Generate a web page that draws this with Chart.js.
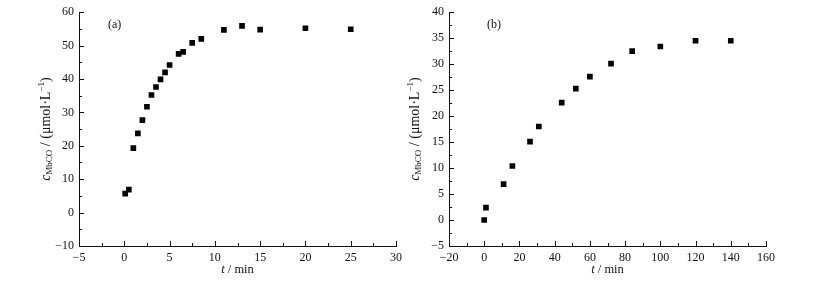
<!DOCTYPE html>
<html>
<head>
<meta charset="utf-8">
<script src="https://cdn.jsdelivr.net/npm/chart.js@4"></script>
<style>
  body { margin: 0; background: #fff; }
  .wrap { position: absolute; top: 0; }
  #wrap-a { left: 0; width: 420px; height: 288px; z-index: 2; }
  #wrap-b { left: 405px; width: 421px; height: 288px; z-index: 1; }
</style>
</head>
<body>
<div class="wrap" id="wrap-a"><canvas id="chart-a" width="420" height="288"></canvas></div>
<div class="wrap" id="wrap-b"><canvas id="chart-b" width="421" height="288"></canvas></div>
<script>
// Data (a)
const timeA = [0.1, 0.5, 1, 1.5, 2, 2.5, 3, 3.5, 4, 4.5, 5, 6, 6.5, 7.5, 8.5, 11, 13, 15, 20, 25];
const concA = [5.7, 6.9, 19.3, 23.7, 27.7, 31.7, 35.2, 37.6, 39.9, 42.0, 44.2, 47.5, 48.1, 50.8, 52.0, 54.7, 55.9, 54.8, 55.2, 54.9];

// Data (b)
const timeB = [0, 1, 11, 16, 26, 31, 44, 52, 60, 72, 84, 100, 120, 140];
const concB = [0, 2.4, 6.9, 10.4, 15.1, 18.0, 22.6, 25.3, 27.6, 30.1, 32.5, 33.4, 34.5, 34.5];

// Axis ranges / ticks
const xRangeA = [-5, 30], xStepA = 5;
const yRangeA = [-10, 60], yStepA = 10;
const xRangeB = [-20, 160], xStepB = 20;
const yRangeB = [-5, 40], yStepB = 5;

const FONT = '"Liberation Serif", "Times New Roman", serif';
const INK = '#111';

function points(xs, ys) {
  return xs.map((x, i) => ({ x: x, y: ys[i] }));
}

function minus(v) {
  return String(v).replace('-', '\u2212');
}

// Inward major/minor ticks and extra labels
const decorPlugin = {
  id: 'decor',
  afterDraw(chart, args, opts) {
    const ctx = chart.ctx;
    const area = chart.chartArea;
    const xs = chart.scales.x, ys = chart.scales.y;
    ctx.save();
    ctx.strokeStyle = INK;
    ctx.lineWidth = 1;

    // x ticks
    const xMinor = opts.xStep / 2;
    for (let v = xs.min; v <= xs.max + 1e-9; v += xMinor) {
      const px = Math.round(xs.getPixelForValue(v)) + 0.5;
      const major = Math.abs((v - xs.min) % opts.xStep) < 1e-9;
      const len = major ? 5 : 3;
      ctx.beginPath();
      ctx.moveTo(px, area.bottom);
      ctx.lineTo(px, area.bottom - len);
      ctx.stroke();
    }
    // y ticks
    const yMinor = opts.yStep / 2;
    for (let v = ys.min; v <= ys.max + 1e-9; v += yMinor) {
      const py = Math.round(ys.getPixelForValue(v)) + 0.5;
      const major = Math.abs((v - ys.min) % opts.yStep) < 1e-9;
      const len = major ? 5 : 3;
      ctx.beginPath();
      ctx.moveTo(area.left, py);
      ctx.lineTo(area.left + len, py);
      ctx.stroke();
    }

    ctx.fillStyle = INK;
    ctx.textBaseline = 'middle';

    // panel label
    ctx.font = '12px ' + FONT;
    ctx.textAlign = 'left';
    ctx.fillText(opts.panel, area.left + opts.panelDx, area.top + 13);

    // x title: t / min
    const cx = (area.left + area.right) / 2;
    const ty = 270;
    ctx.font = 'italic 12.5px ' + FONT;
    const tW = ctx.measureText('t').width;
    ctx.font = '12.5px ' + FONT;
    const restW = ctx.measureText(' / min').width;
    let x0 = cx - (tW + restW) / 2;
    ctx.font = 'italic 12.5px ' + FONT;
    ctx.fillText('t', x0, ty);
    ctx.font = '12.5px ' + FONT;
    ctx.fillText(' / min', x0 + tW, ty);

    // y title: c_MbCO / (μmol·L^-1), rotated
    ctx.save();
    ctx.translate(opts.yTitleX, (area.top + area.bottom) / 2);
    ctx.rotate(-Math.PI / 2);
    const parts = [
      { t: 'c', f: 'italic 14px ' + FONT, dy: 0 },
      { t: 'MbCO', f: '9px ' + FONT, dy: 4 },
      { t: ' / (\u03bcmol\u00b7L', f: '14px ' + FONT, dy: 0 },
      { t: '\u22121', f: '9px ' + FONT, dy: -4 },
      { t: ')', f: '14px ' + FONT, dy: 0 }
    ];
    let total = 0;
    parts.forEach(p => { ctx.font = p.f; p.w = ctx.measureText(p.t).width; total += p.w; });
    let px = -total / 2;
    parts.forEach(p => {
      ctx.font = p.f;
      ctx.fillText(p.t, px, p.dy);
      px += p.w;
    });
    ctx.restore();

    ctx.restore();
  }
};

function makeChart(id, xs, ys, xRange, xStep, yRange, yStep, cfg) {
  return new Chart(document.getElementById(id), {
    type: 'scatter',
    data: {
      datasets: [{
        data: points(xs, ys),
        pointStyle: 'rect',
        pointRadius: 4,
        pointHoverRadius: 4,
        pointBorderWidth: 0,
        backgroundColor: '#000',
        borderColor: '#000'
      }]
    },
    options: {
      responsive: false,
      animation: false,
      events: [],
      layout: { padding: cfg.padding },
      plugins: {
        legend: { display: false },
        tooltip: { enabled: false },
        decor: { xStep: xStep, yStep: yStep, panel: cfg.panel, panelDx: cfg.panelDx, yTitleX: cfg.yTitleX }
      },
      scales: {
        x: {
          type: 'linear',
          min: xRange[0],
          max: xRange[1],
          grid: { display: false, drawTicks: false },
          border: { display: true, color: INK, width: 1 },
          ticks: {
            stepSize: xStep,
            maxRotation: 0,
            padding: 5,
            color: INK,
            font: { family: FONT, size: 12 },
            callback: v => minus(v)
          },
          afterFit(scale) { scale.height = 42; }
        },
        y: {
          type: 'linear',
          min: yRange[0],
          max: yRange[1],
          grid: { display: false, drawTicks: false },
          border: { display: true, color: INK, width: 1 },
          ticks: {
            stepSize: yStep,
            padding: 5,
            color: INK,
            font: { family: FONT, size: 12 },
            callback: v => minus(v)
          },
          afterFit(scale) { scale.width = cfg.yWidth; }
        }
      }
    },
    plugins: [decorPlugin]
  });
}

makeChart('chart-a', timeA, concA, xRangeA, xStepA, yRangeA, yStepA, {
  padding: { left: 0, top: 11, right: 24, bottom: 0 },
  yWidth: 79, panel: '(a)', panelDx: 29, yTitleX: 46
});

makeChart('chart-b', timeB, concB, xRangeB, xStepB, yRangeB, yStepB, {
  padding: { left: 0, top: 11, right: 60, bottom: 0 },
  yWidth: 44, panel: '(b)', panelDx: 38, yTitleX: 10
});
</script>
</body>
</html>
